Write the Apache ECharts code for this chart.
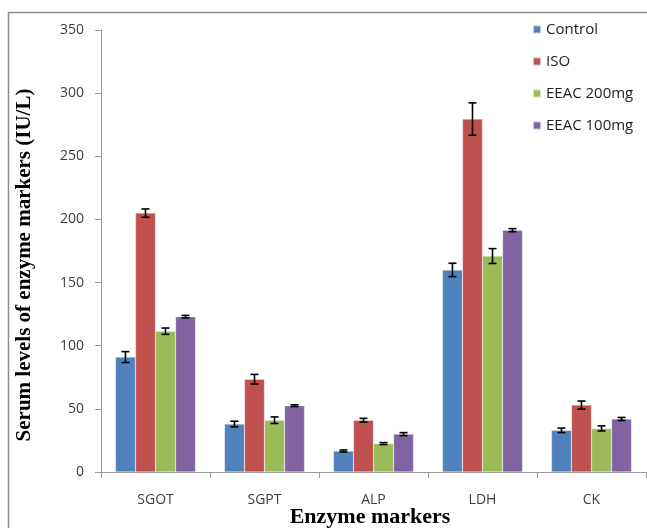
<!DOCTYPE html>
<html>
<head>
<meta charset="utf-8">
<script src="https://cdn.jsdelivr.net/npm/echarts@6/dist/echarts.min.js"></script>
<style>
  html, body { margin: 0; padding: 0; background: #fff; }
  #chart { width: 647px; height: 528px; }
</style>
</head>
<body>
<div id="chart"></div>
<script>
var categories = ['SGOT', 'SGPT', 'ALP', 'LDH', 'CK'];
var seriesNames = ['Control', 'ISO', 'EEAC 200mg', 'EEAC 100mg'];
var colors = ['#4F81BD', '#C0504D', '#9BBB59', '#8064A2'];

// mean values per group
var control = [91, 38, 16.6, 160, 33];
var iso = [205, 73.5, 41, 279.5, 53];
var eeac200 = [111.5, 41, 22.5, 171, 34.5];
var eeac100 = [123, 52.5, 30, 191.5, 42];

// error (+/-)
var controlErr = [4.3, 2.2, 0.8, 5.3, 1.8];
var isoErr = [3.3, 3.8, 1.5, 12.8, 3.2];
var eeac200Err = [2.5, 2.6, 0.8, 5.9, 2];
var eeac100Err = [1, 0.7, 1.2, 1.2, 1.2];

var yTicks = [0, 50, 100, 150, 200, 250, 300, 350];

window.onload = function () {
    var myChart = echarts.init(document.getElementById('chart'));
    var values = [control, iso, eeac200, eeac100];
    var errs = [controlErr, isoErr, eeac200Err, eeac100Err];

    var series = [];
    values.forEach(function (v, i) {
        series.push({
            name: seriesNames[i],
            type: 'bar',
            data: v,
            barGap: '0%',
            barCategoryGap: '26.5%',
            itemStyle: { color: colors[i], borderColor: 'rgba(255,255,255,0.6)', borderWidth: 0.5 }
        });
    });

    // error bars drawn on top of the bars
    values.forEach(function (v, i) {
        var errData = v.map(function (val, k) {
            return [k, val - errs[i][k], val + errs[i][k]];
        });
        series.push({
            type: 'custom',
            name: seriesNames[i] + ' err',
            z: 10,
            renderItem: function (params, api) {
                var k = api.value(0);
                var lo = api.coord([k, api.value(1)]);
                var hi = api.coord([k, api.value(2)]);
                var bandW = api.size([1, 0])[0];
                var barW = bandW * (1 - 0.265) / 4;
                var x = lo[0] - bandW * (1 - 0.265) / 2 + barW * (i + 0.5);
                var cap = 4;
                var style = { stroke: '#000', lineWidth: 1.6 };
                return {
                    type: 'group',
                    children: [
                        { type: 'line', shape: { x1: x, y1: lo[1], x2: x, y2: hi[1] }, style: style },
                        { type: 'line', shape: { x1: x - cap, y1: lo[1], x2: x + cap, y2: lo[1] }, style: style },
                        { type: 'line', shape: { x1: x - cap, y1: hi[1], x2: x + cap, y2: hi[1] }, style: style }
                    ]
                };
            },
            encode: { x: 0, y: [1, 2] },
            data: errData
        });
    });

    var option = {
        animation: false,
        grid: { left: 101, right: 1, top: 30, bottom: 56, containLabel: false },
        legend: {
            data: seriesNames,
            orient: 'vertical',
            left: 527,
            top: 14,
            itemWidth: 8,
            itemHeight: 8,
            itemGap: 11,
            icon: 'rect',
            textStyle: { fontFamily: 'Open Sans', fontSize: 15, color: '#222', lineHeight: 21 }
        },
        xAxis: {
            type: 'category',
            data: categories,
            axisLine: { lineStyle: { color: '#9a9a9a', width: 1 } },
            axisTick: { show: true, length: 6, lineStyle: { color: '#9a9a9a' } },
            axisLabel: { fontFamily: 'Open Sans', fontSize: 14, color: '#404040', margin: 21 }
        },
        yAxis: {
            type: 'value',
            min: 0,
            max: 350,
            interval: 50,
            splitLine: { show: false },
            axisLine: { show: true, lineStyle: { color: '#9a9a9a', width: 1 } },
            axisTick: { show: true, length: 6, lineStyle: { color: '#9a9a9a' } },
            axisLabel: {
                fontFamily: 'Open Sans', fontSize: 14, color: '#404040', margin: 17,
                formatter: function (v) { return yTicks.indexOf(v) >= 0 ? String(v) : ''; }
            }
        },
        graphic: [
            {
                type: 'rect',
                shape: { x: 8.5, y: 12.5, width: 700, height: 600 },
                style: { fill: 'none', stroke: '#8c8c8c', lineWidth: 1.5 },
                silent: true
            },
            {
                type: 'text',
                x: 25,
                y: 265,
                rotation: Math.PI / 2,
                style: {
                    text: 'Serum levels of enzyme markers (IU/L)',
                    font: 'bold 21px "Liberation Serif"',
                    fill: '#000',
                    textAlign: 'center',
                    textVerticalAlign: 'middle'
                }
            },
            {
                type: 'text',
                x: 370,
                y: 517,
                style: {
                    text: 'Enzyme markers',
                    font: 'bold 22px "Liberation Serif"',
                    fill: '#000',
                    textAlign: 'center',
                    textVerticalAlign: 'middle'
                }
            }
        ],
        series: series
    };
    myChart.setOption(option);
    window.addEventListener('resize', function () {
        myChart.resize();
    });
};
</script>
</body>
</html>
